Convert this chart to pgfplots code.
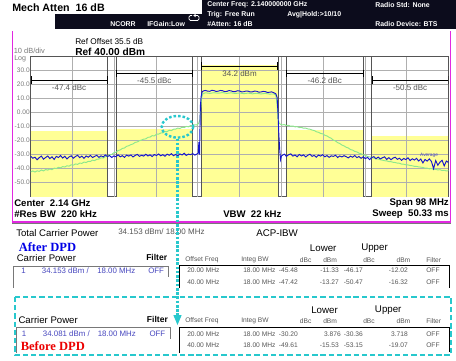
\documentclass[border=0pt]{standalone}
\usepackage{fontspec}
\setmainfont{Liberation Sans}
\newfontfamily\serifb{Liberation Serif}
\usepackage{pgfplots}
\pgfplotsset{compat=1.18}
\definecolor{yfill}{RGB}{255,255,150}
\definecolor{gridc}{RGB}{175,175,175}
\definecolor{bandc}{RGB}{85,85,85}
\definecolor{tblue}{RGB}{20,20,205}
\definecolor{tgreen}{RGB}{140,232,140}
\definecolor{mag}{RGB}{225,40,225}
\definecolor{cyanc}{RGB}{40,200,205}
\definecolor{hdr}{RGB}{12,12,28}
\definecolor{labgray}{RGB}{120,120,120}
\definecolor{txtgray}{RGB}{85,85,85}
\definecolor{valblue}{RGB}{70,70,190}
\newcommand{\fs}[1]{\fontsize{#1}{#1}\selectfont}
\begin{document}
\begin{tikzpicture}
\path[use as bounding box] (0pt,0pt) rectangle (342pt,-270pt);
\begin{axis}[at={(23.025pt,-147.525pt)}, anchor=south west,
  width=313.35pt, height=105pt, scale only axis,
  xmin=-49, xmax=49, ymin=-60, ymax=40,
  xtick=\empty, ytick={-50,-40,-30,-20,-10,0,10,20,30},
  yticklabels={-50.0,-40.0,-30.0,-20.0,-10.0,0.00,10.0,20.0,30.0},
  major tick length=0pt,
  yticklabel style={font=\fs{4.9}, text=labgray, inner sep=0.6pt},
  axis line style={draw=bandc, line width=0.5pt},
  clip=true]
% yellow integration bands (band power, dBm)
\addplot[fill=yfill, draw=none] coordinates {(-49,-60) (-49,-13.27) (-31,-13.27) (-31,-60)};
\addplot[fill=yfill, draw=none] coordinates {(-29,-60) (-29,-11.33) (-11,-11.33) (-11,-60)};
\addplot[fill=yfill, draw=none] coordinates {(-9,-60) (-9,34.15) (9,34.15) (9,-60)};
\addplot[fill=yfill, draw=none] coordinates {(11,-60) (11,-12.02) (29,-12.02) (29,-60)};
\addplot[fill=yfill, draw=none] coordinates {(31,-60) (31,-16.32) (49,-16.32) (49,-60)};
% grid
\pgfplotsinvokeforeach{-39.2,-29.4,-19.6,-9.8,0,9.8,19.6,29.4,39.2}{\draw[gridc, line width=0.5pt] (axis cs:#1,-60) -- (axis cs:#1,40);}
\pgfplotsinvokeforeach{-50,-40,-30,-20,-10,0,10,20,30}{\draw[gridc, line width=0.5pt] (axis cs:-49,#1) -- (axis cs:49,#1);}
% band edges
\pgfplotsinvokeforeach{-31,-29,-11,-9,9,11,29,31}{\draw[bandc, line width=0.45pt] (axis cs:#1,-60) -- (axis cs:#1,40);}
% before DPD trace
\addplot[tgreen, line width=0.7pt] coordinates {(-49,-42.3)(-48.5,-41.6)(-48,-42.4)(-47.5,-41.5)(-47,-41.9)(-46.5,-40.9)(-46,-41.6)(-45.5,-40.6)(-45,-41.0)(-44.5,-40.2)(-44,-40.7)(-43.5,-39.6)(-43,-39.9)(-42.5,-39.0)(-42,-39.4)(-41.5,-38.5)(-41,-38.8)(-40.5,-37.9)(-40,-38.2)(-39.5,-37.2)(-39,-37.5)(-38.5,-36.6)(-38,-36.9)(-37.5,-36.0)(-37,-36.2)(-36.5,-35.3)(-36,-35.6)(-35.5,-34.7)(-35,-34.8)(-34.5,-33.9)(-34,-34.2)(-33.5,-33.3)(-33,-33.1)(-32.5,-32.2)(-32,-32.4)(-31.5,-31.4)(-31,-31.2)(-30.5,-30.0)(-30,-29.8)(-29.5,-28.6)(-29,-28.3)(-28.5,-27.0)(-28,-26.6)(-27.5,-25.5)(-27,-25.2)(-26.5,-24.0)(-26,-23.6)(-25.5,-22.8)(-25,-22.3)(-24.5,-21.2)(-24,-20.9)(-23.5,-20.0)(-23,-19.5)(-22.5,-18.9)(-22,-18.7)(-21.5,-17.6)(-21,-17.4)(-20.5,-16.4)(-20,-16.6)(-19.5,-15.4)(-19,-15.3)(-18.5,-14.5)(-18,-14.4)(-17.5,-13.4)(-17,-13.5)(-16.5,-12.5)(-16,-12.8)(-15.5,-11.8)(-15,-11.7)(-14.5,-11.0)(-14,-11.3)(-13.5,-10.4)(-13,-10.6)(-12.5,-9.8)(-12,-10.1)(-11.5,-9.2)(-11,-9.4)(-10.5,-8.6)(-10,-8.7)(-9.6,-7.6)(-9.3,-5)(-9.1,4)(-8.9,11)(-8.6,13.6)(-8,14.2)(-7,13.8)(-6,14.3)(-5,13.9)(-4,14.4)(-3,13.8)(-2,14.2)(-1,13.7)(0,14.1)(1,13.6)(2,14.0)(3,13.5)(4,13.9)(5,13.4)(6,13.8)(7,13.3)(8,13.4)(8.5,12.6)(8.8,6)(9.0,-4)(9.3,-7.6)(9.6,-8.3)(10,-8.7)(10.5,-8.5)(11,-9.2)(11.5,-9.0)(12,-9.7)(12.5,-9.5)(13,-10.1)(13.5,-10.0)(14,-10.6)(14.5,-10.5)(15,-11.1)(15.5,-11.0)(16,-11.6)(16.5,-11.8)(17,-12.4)(17.5,-12.7)(18,-13.6)(18.5,-14.0)(19,-14.8)(19.5,-15.1)(20,-16.1)(20.5,-16.6)(21,-17.6)(21.5,-18.3)(22,-19.6)(22.5,-20.2)(23,-21.4)(23.5,-22.0)(24,-23.1)(24.5,-23.7)(25,-24.7)(25.5,-25.2)(26,-26.3)(26.5,-26.7)(27,-27.6)(27.5,-28.0)(28,-28.9)(28.5,-29.3)(29,-30.1)(29.5,-30.4)(30,-31.3)(30.5,-31.5)(31,-32.1)(31.5,-32.4)(32,-33.0)(32.5,-33.1)(33,-33.6)(33.5,-33.9)(34,-34.3)(34.5,-34.4)(35,-34.9)(35.5,-35.0)(36,-35.4)(36.5,-35.6)(37,-36.0)(37.5,-36.1)(38,-36.7)(38.5,-36.8)(39,-37.2)(39.5,-37.3)(40,-37.7)(40.5,-37.9)(41,-38.3)(41.5,-38.4)(42,-38.7)(42.5,-38.9)(43,-39.1)(43.5,-39.6)(44,-39.6)(44.5,-40.1)(45,-39.9)(45.5,-40.5)(46,-40.4)(46.5,-40.9)(47,-40.7)(47.5,-41.3)(48,-41.1)(48.5,-41.6)(49,-41.4)};
% after DPD trace
\addplot[tblue, line width=0.7pt] coordinates {(-49,-31.2)(-48.5,-32.5)(-48,-31.8)(-47.5,-33.6)(-47,-32.1)(-46.5,-31.0)(-46,-33.2)(-45.5,-32.0)(-45,-30.9)(-44.5,-32.8)(-44,-31.5)(-43.5,-33.4)(-43,-31.2)(-42.5,-32.0)(-42,-30.6)(-41.5,-32.4)(-41,-31.1)(-40.5,-33.0)(-40,-31.6)(-39.5,-30.8)(-39,-32.5)(-38.5,-31.3)(-38,-30.4)(-37.5,-32.1)(-37,-31.0)(-36.5,-32.6)(-36,-30.9)(-35.5,-31.8)(-35,-30.5)(-34.5,-32.0)(-34,-31.2)(-33.5,-30.4)(-33,-31.9)(-32.5,-30.8)(-32,-31.6)(-31.5,-30.2)(-31,-31.3)(-30.5,-30.6)(-30,-32.0)(-29.5,-30.9)(-29,-31.4)(-28.5,-30.1)(-28,-31.5)(-27.5,-30.7)(-27,-31.9)(-26.5,-30.3)(-26,-31.0)(-25.5,-30.2)(-25,-31.6)(-24.5,-30.5)(-24,-29.8)(-23.5,-31.2)(-23,-30.4)(-22.5,-31.0)(-22,-29.7)(-21.5,-30.9)(-21,-30.1)(-20.5,-31.3)(-20,-29.9)(-19.5,-30.6)(-19,-29.5)(-18.5,-30.8)(-18,-30.0)(-17.5,-31.1)(-17,-29.6)(-16.5,-30.4)(-16,-29.3)(-15.5,-30.7)(-15,-29.8)(-14.5,-30.9)(-14,-29.4)(-13.5,-30.2)(-13,-29.0)(-12.5,-30.5)(-12,-29.6)(-11.5,-30.0)(-11,-29.2)(-10.5,-30.3)(-10,-29.5)(-9.7,-28.8)(-9.55,-21)(-9.4,-30)(-9.2,5)(-9.0,12)(-8.8,14.8)(-8.5,15.6)(-8,15.9)(-7.5,15.4)(-7,15.3)(-6.5,16.0)(-6,15.8)(-5.5,15.2)(-5,15.4)(-4.5,15.9)(-4,15.7)(-3.5,15.1)(-3,15.2)(-2.5,15.8)(-2,15.6)(-1.5,15.0)(-1,15.1)(-0.5,15.7)(0,15.5)(0.5,14.9)(1,15.0)(1.5,15.5)(2,15.4)(2.5,14.8)(3,14.9)(3.5,15.4)(4,15.3)(4.5,14.7)(5,14.8)(5.5,15.2)(6,15.1)(6.5,14.5)(7,14.6)(7.5,14.9)(8,14.3)(8.5,13.5)(8.8,11)(9.0,0)(9.2,-15)(9.4,-26)(9.6,-33.5)(9.8,-31)(10,-30.5)(10.5,-29.6)(11,-31.2)(11.5,-30.0)(12,-29.4)(12.5,-31.0)(13,-30.2)(13.5,-31.5)(14,-29.8)(14.5,-30.9)(15,-30.1)(15.5,-31.6)(16,-30.4)(16.5,-29.7)(17,-31.2)(17.5,-30.5)(18,-31.8)(18.5,-30.3)(19,-31.0)(19.5,-30.0)(20,-31.5)(20.5,-30.6)(21,-31.9)(21.5,-30.8)(22,-31.2)(22.5,-30.4)(23,-32.0)(23.5,-30.9)(24,-31.6)(24.5,-30.7)(25,-31.4)(25.5,-32.3)(26,-31.0)(26.5,-31.8)(27,-30.6)(27.5,-32.1)(28,-31.3)(28.5,-32.6)(29,-31.5)(29.5,-32.8)(30,-31.9)(30.5,-33.5)(31,-32.0)(31.5,-31.4)(32,-32.9)(32.5,-31.7)(33,-33.0)(33.5,-32.2)(34,-31.5)(34.5,-33.4)(35,-32.1)(35.5,-33.6)(36,-32.4)(36.5,-31.8)(37,-33.3)(37.5,-32.5)(38,-34.0)(38.5,-32.7)(39,-33.5)(39.5,-32.2)(40,-34.2)(40.5,-32.9)(41,-33.8)(41.5,-32.6)(42,-34.5)(42.5,-33.1)(43,-35.9)(43.5,-33.4)(44,-34.6)(44.5,-33.0)(45,-34.8)(45.5,-40.0)(46,-34.2)(46.5,-37.5)(47,-35.3)(47.5,-34.0)(48,-38.0)(48.5,-34.5)(49,-35.6)};
% band annotations
\draw[black, line width=0.4pt, |-|] (axis cs:-49,23.4) -- (axis cs:-31,23.4);
\draw[black, line width=0.4pt, |-|] (axis cs:-29,28.1) -- (axis cs:-11,28.1);
\draw[black, line width=0.4pt, |-|] (axis cs:-9,33.4) -- (axis cs:9,33.4);
\draw[black, line width=0.4pt, |-|] (axis cs:11,28.1) -- (axis cs:29,28.1);
\draw[black, line width=0.4pt, |-|] (axis cs:31,23.4) -- (axis cs:49,23.4);
\node[font=\fs{6}, text=txtgray] at (axis cs:-40,18.1) {-47.4 dBc};
\node[font=\fs{6}, text=txtgray] at (axis cs:-20,22.9) {-45.5 dBc};
\node[font=\fs{6}, text=txtgray] at (axis cs:0,28.1) {34.2 dBm};
\node[font=\fs{6}, text=txtgray] at (axis cs:20,22.9) {-46.2 dBc};
\node[font=\fs{6}, text=txtgray] at (axis cs:40,18.1) {-50.5 dBc};
\node[font=\fs{3.6}, text=valblue, anchor=west, inner sep=0pt] at (axis cs:42.3,-30.8) {Average};
\end{axis}
\begin{scope}[x=0.75pt,y=-0.75pt]
% header
\node[anchor=west, inner sep=0pt, font=\bfseries\fs{8}] at (12,8) {Mech Atten\ \ 16 dB};
\fill[hdr] (55,14.5) rectangle (456,29.3);
\fill[hdr] (202,0) rectangle (456,29.3);
\begin{scope}[every node/.style={anchor=west, inner sep=0pt, text=white, font=\bfseries\fs{5.2}}]
\node at (110,24.2) {NCORR};
\node at (147,24.2) {IFGain:Low};
\node at (207,5) {Center Freq: 2.140000000 GHz};
\node at (207,14.5) {Trig: Free Run};
\node at (287,14.5) {Avg|Hold:>10/10};
\node at (207,24) {\#Atten: 16 dB};
\node at (375,5) {Radio Std: None};
\node at (375,24) {Radio Device: BTS};
\end{scope}
\draw[white, line width=0.6pt, rounded corners=1pt] (192,15.5) -- (189,15.5) -- (189,20.5) -- (199,20.5) -- (199,15.5) -- (195,15.5);
\fill[white] (195.5,13.8) -- (195.5,17.2) -- (193.3,15.5) -- cycle;
% panel frame
\draw[mag, line width=1.3pt] (12.5,31.5) -- (12.5,221.8) -- (450.5,221.8) -- (450.5,31.5);
\draw[labgray, line width=0.7pt] (12,223.8) -- (451,223.8);
\node[anchor=west, inner sep=0pt, font=\fs{6.2}] at (75,42) {Ref Offset 35.5 dB};
\node[anchor=west, inner sep=0pt, font=\fs{5.6}, text=labgray] at (13.5,51) {10 dB/div};
\node[anchor=west, inner sep=0pt, font=\bfseries\fs{7.6}] at (75,52) {Ref 40.00 dBm};
\node[anchor=west, inner sep=0pt, font=\fs{5.3}, text=labgray] at (14,59) {Log};
\node[anchor=west, inner sep=0pt, font=\bfseries\fs{7.2}] at (14,203.5) {Center\ \ 2.14 GHz};
\node[anchor=west, inner sep=0pt, font=\bfseries\fs{7.2}] at (14,214.5) {\#Res BW\ \ 220 kHz};
\node[anchor=west, inner sep=0pt, font=\bfseries\fs{7.2}] at (223,214.5) {VBW\ \ 22 kHz};
\node[anchor=east, inner sep=0pt, font=\bfseries\fs{7.2}] at (449,203.5) {Span 98 MHz};
\node[anchor=east, inner sep=0pt, font=\bfseries\fs{7.2}] at (449,214.5) {Sweep\ \ 50.33 ms};
% after DPD block
\node[anchor=west, inner sep=0pt, font=\fs{7.2}] at (16,233) {Total Carrier Power};
\node[anchor=west, inner sep=0pt, font=\fs{6}, text=txtgray] at (118,232) {34.153 dBm/ 18.00 MHz};
\node[anchor=west, inner sep=0pt, font=\fs{7.3}] at (256,233) {ACP-IBW};
\node[anchor=west, inner sep=0pt, font=\serifb\bfseries\fs{9.4}, text={rgb,255:red,0;green,0;blue,230}] at (18.5,247) {After DPD};
\node[anchor=west, inner sep=0pt, font=\fs{7.3}] at (309.7,248.3) {Lower};
\node[anchor=west, inner sep=0pt, font=\fs{7.3}] at (361,248.3) {Upper};
\node[anchor=west, inner sep=0pt, font=\fs{7.2}] at (16.5,258.3) {Carrier Power};
\node[anchor=west, inner sep=0pt, font=\bfseries\fs{6.4}] at (146,257.5) {Filter};
\begin{scope}[every node/.style={inner sep=0pt, font=\fs{5.0}, text=txtgray}]
\node[anchor=west] at (185,259.8) {Offset Freq};
\node[anchor=west] at (241,259.8) {Integ BW};
\node[anchor=west] at (299.7,259.8) {dBc};
\node[anchor=west] at (323,259.8) {dBm};
\node[anchor=west] at (363,259.8) {dBc};
\node[anchor=west] at (396.3,259.8) {dBm};
\node[anchor=west] at (426,259.8) {Filter};
\node[anchor=west] at (187,270.5) {20.00 MHz};
\node[anchor=west] at (243,270.5) {18.00 MHz};
\node[anchor=east] at (298,270.5) {-45.48};
\node[anchor=east] at (339,270.5) {-11.33};
\node[anchor=east] at (363,270.5) {-46.17};
\node[anchor=east] at (408,270.5) {-12.02};
\node[anchor=west] at (426,270.5) {OFF};
\node[anchor=west] at (187,282) {40.00 MHz};
\node[anchor=west] at (243,282) {18.00 MHz};
\node[anchor=east] at (298,282) {-47.42};
\node[anchor=east] at (339,282) {-13.27};
\node[anchor=east] at (363,282) {-50.47};
\node[anchor=east] at (408,282) {-16.32};
\node[anchor=west] at (426,282) {OFF};
\end{scope}
\begin{scope}[every node/.style={inner sep=0pt, font=\fs{5.9}, text=valblue, anchor=west}]
\node at (21,271) {1};
\node at (41.7,271) {34.153 dBm /};
\node at (97,271) {18.00 MHz};
\node at (148,271) {OFF};
\end{scope}
\draw[labgray, line width=0.6pt] (13.3,288) -- (13.3,266.3) -- (168.3,266.3) -- (168.3,277);
\draw[black, line width=0.6pt] (179.5,288) -- (179.5,265.8) -- (449.7,265.8) -- (449.7,288);
% before DPD block
\draw[cyanc, line width=1.6pt, dash pattern=on 4pt off 2.2pt] (15,296.7) rectangle (451,355);
\node[anchor=west, inner sep=0pt, font=\fs{7.3}] at (311,310) {Lower};
\node[anchor=west, inner sep=0pt, font=\fs{7.3}] at (374.7,310) {Upper};
\node[anchor=west, inner sep=0pt, font=\fs{7.2}] at (18.3,320) {Carrier Power};
\node[anchor=west, inner sep=0pt, font=\bfseries\fs{6.4}] at (146.7,319.3) {Filter};
\begin{scope}[every node/.style={inner sep=0pt, font=\fs{5.0}, text=txtgray}]
\node[anchor=west] at (185,321) {Offset Freq};
\node[anchor=west] at (241,320.7) {Integ BW};
\node[anchor=west] at (299.7,320.7) {dBc};
\node[anchor=west] at (323,320.7) {dBm};
\node[anchor=west] at (363,320.7) {dBc};
\node[anchor=west] at (396.3,320.7) {dBm};
\node[anchor=west] at (426,320.7) {Filter};
\node[anchor=west] at (187,334) {20.00 MHz};
\node[anchor=west] at (243,334) {18.00 MHz};
\node[anchor=east] at (298,334) {-30.20};
\node[anchor=east] at (341,334) {3.876};
\node[anchor=east] at (363,334) {-30.36};
\node[anchor=east] at (408,334) {3.718};
\node[anchor=west] at (426,334) {OFF};
\node[anchor=west] at (187,345.3) {40.00 MHz};
\node[anchor=west] at (243,345.3) {18.00 MHz};
\node[anchor=east] at (298,345.3) {-49.61};
\node[anchor=east] at (339,345.3) {-15.53};
\node[anchor=east] at (363,345.3) {-53.15};
\node[anchor=east] at (408,345.3) {-19.07};
\node[anchor=west] at (426,345.3) {OFF};
\end{scope}
\begin{scope}[every node/.style={inner sep=0pt, font=\fs{5.9}, text=valblue, anchor=west}]
\node at (21.7,334) {1};
\node at (42.7,334) {34.081 dBm /};
\node at (97.5,334) {18.00 MHz};
\node at (149.3,334) {OFF};
\end{scope}
\node[anchor=west, inner sep=0pt, font=\serifb\bfseries\fs{9.4}, text={rgb,255:red,235;green,0;blue,0}] at (20.5,346) {Before DPD};
\draw[labgray, line width=0.6pt] (16,353) -- (16,327.7) -- (170,327.7) -- (170,339);
\draw[black, line width=0.6pt] (179.5,353) -- (179.5,327.7) -- (449.7,327.7) -- (449.7,352);
% cyan circle and arrow
\draw[cyanc, line width=1.8pt, dash pattern=on 1.9pt off 1.5pt] (177.5,126.8) ellipse [x radius=15.8, y radius=10.8];
\draw[cyanc, line width=1.9pt, dash pattern=on 2pt off 1.2pt] (177.3,138.5) -- (177.3,316);
\fill[cyanc] (173.3,315) -- (181.7,315) -- (177.5,325) -- cycle;
\end{scope}
\end{tikzpicture}
\end{document}
